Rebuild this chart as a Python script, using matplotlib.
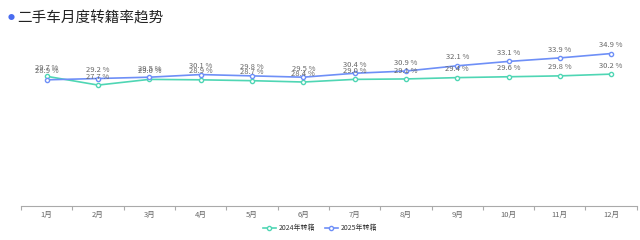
import matplotlib
matplotlib.use('Agg')
import matplotlib.pyplot as plt

plt.rcParams['font.family'] = ['Noto Sans CJK SC', 'DejaVu Sans']

months = ['1月', '2月', '3月', '4月', '5月', '6月', '7月', '8月', '9月', '10月', '11月', '12月']
rate2024 = [29.7, 27.7, 29.0, 28.9, 28.7, 28.4, 29.0, 29.1, 29.4, 29.6, 29.8, 30.2]
rate2025 = [28.9, 29.2, 29.5, 30.1, 29.8, 29.5, 30.4, 30.9, 32.1, 33.1, 33.9, 34.9]
seriesNames = ['2024年转籍', '2025年转籍']
colors = ['#4fd6b4', '#6e8ff7']

fig = plt.figure(figsize=(6.4, 2.4), dpi=100)
ax = fig.add_axes([0.033, 0.14, 0.962, 0.73])

xs = list(range(len(months)))
for vals, name, c in zip([rate2024, rate2025], seriesNames, colors):
    ax.plot(xs, vals, color=c, linewidth=1.2, marker='o', markersize=3,
            markerfacecolor='white', markeredgecolor=c, markeredgewidth=1, label=name)
    for x, v in zip(xs, vals):
        ax.text(x, v + 1.0, '%.1f %%' % v, ha='center', va='bottom', fontsize=5.5, color='#666666')

ax.set_xlim(-0.5, len(months) - 0.5)
ax.set_ylim(0, 40)
ax.set_yticks([])
ax.set_xticks([x - 0.5 for x in range(len(months) + 1)])
ax.set_xticklabels([])
ax.set_xticks(xs, minor=True)
ax.set_xticklabels(months, minor=True)
ax.tick_params(axis='x', which='major', length=3, color='#aaaaaa', width=0.8)
ax.tick_params(axis='x', which='minor', length=0, labelsize=5.5, labelcolor='#666666', pad=3)
for s in ['top', 'right', 'left']:
    ax.spines[s].set_visible(False)
ax.spines['bottom'].set_color('#aaaaaa')
ax.spines['bottom'].set_linewidth(0.8)

leg = fig.legend(loc='center', bbox_to_anchor=(0.5, 0.05), ncol=2, frameon=False,
                 fontsize=5, handlelength=1.8, columnspacing=1.5, handletextpad=0.4)
for t in leg.get_texts():
    t.set_color('#333333')

fig.text(0.012, 0.925, '●', color='#4a6cf0', fontsize=5, va='center', ha='left')
fig.text(0.027, 0.925, '二手车月度转籍率趋势', color='#222222', fontsize=10.5, va='center', ha='left')

fig.savefig('out.png', dpi=100)
